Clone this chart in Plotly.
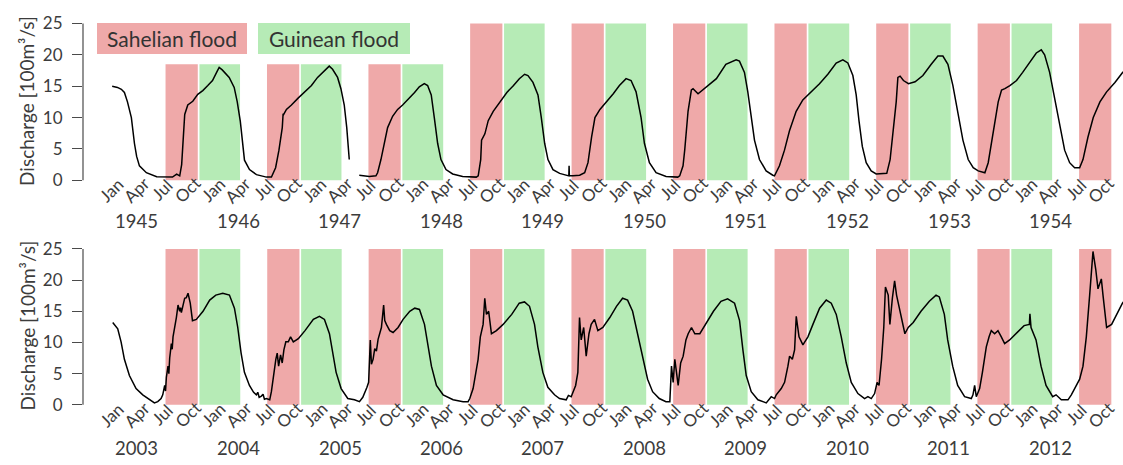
import plotly.graph_objects as go

# ---------------- data ----------------
top_dates = [
    "1945-01-02", "1945-01-21", "1945-02-04", "1945-02-15", "1945-02-26", "1945-03-12", "1945-03-23",
    "1945-03-31", "1945-04-10", "1945-05-05", "1945-06-11", "1945-07-17", "1945-08-07", "1945-08-22",
    "1945-09-02", "1945-09-09", "1945-09-14", "1945-09-20", "1945-10-01", "1945-10-19", "1945-11-06",
    "1945-11-24", "1945-12-12", "1945-12-29", "1946-01-15", "1946-01-22", "1946-02-02", "1946-02-27",
    "1946-03-17", "1946-03-28", "1946-04-08", "1946-04-15", "1946-04-23", "1946-05-11", "1946-06-05",
    "1946-07-11", "1946-07-29", "1946-08-13", "1946-08-25", "1946-09-06", "1946-09-09", "1946-09-10",
    "1946-09-11", "1946-09-21", "1946-10-09", "1946-11-02", "1946-11-26", "1946-12-20", "1947-01-11",
    "1947-02-04", "1947-02-22", "1947-03-06", "1947-03-24", "1947-04-05", "1947-04-17", "1947-04-26",
    "1947-05-05", None,
    "1947-06-10", "1947-07-16", "1947-08-09", "1947-08-15", "1947-08-27", "1947-09-08", "1947-09-20",
    "1947-10-08", "1947-10-26", "1947-11-13", "1947-12-08", "1947-12-26", "1948-01-12", "1948-01-30",
    "1948-02-11", "1948-02-24", "1948-03-06", "1948-03-18", "1948-03-30", "1948-04-17", "1948-05-11",
    "1948-06-16", "1948-08-04", "1948-08-11", "1948-08-20", "1948-08-23", "1948-09-04", "1948-09-16",
    "1948-10-04", "1948-10-28", "1948-11-22", "1948-12-16", "1949-01-06", "1949-01-25", "1949-02-06",
    "1949-02-24", "1949-03-14", "1949-03-26", "1949-04-07", "1949-04-19", "1949-05-07", "1949-05-31",
    "1949-06-24", "1949-07-03", "1949-07-04", "1949-07-05", "1949-07-18", "1949-08-11", "1949-08-29",
    "1949-09-10", "1949-09-23", "1949-10-05", "1949-10-23", "1949-11-16", "1949-12-10", "1950-01-01",
    "1950-01-25", "1950-02-12", "1950-03-02", "1950-03-20", "1950-04-01", "1950-04-19", "1950-05-13",
    "1950-06-18", "1950-07-30", "1950-08-06", "1950-08-18", "1950-08-24", "1950-08-30", "1950-09-05",
    "1950-09-17", "1950-09-23", "1950-10-11", "1950-11-10", "1950-12-16", "1951-01-19", "1951-02-25",
    "1951-03-09", "1951-03-27", "1951-04-08", "1951-04-20", "1951-05-02", "1951-05-20", "1951-06-13",
    "1951-07-07", "1951-07-13", "1951-07-31", "1951-08-18", "1951-09-05", "1951-09-29", "1951-10-23",
    "1951-11-23", "1951-12-22", "1952-01-21", "1952-02-20", "1952-03-15", "1952-04-02", "1952-04-20",
    "1952-05-02", "1952-05-12", "1952-05-24", "1952-06-07", "1952-06-25", "1952-07-13", "1952-08-01",
    "1952-08-20", "1952-09-01", "1952-09-13", "1952-09-23", "1952-09-29", "1952-10-07", "1952-10-19",
    "1952-11-06", "1952-11-30", "1952-12-28", "1953-01-27", "1953-02-20", "1953-03-10", "1953-03-28",
    "1953-04-15", "1953-05-03", "1953-05-21", "1953-06-09", "1953-06-27", "1953-07-15", "1953-08-02",
    "1953-08-08", "1953-08-20", "1953-09-01", "1953-09-13", "1953-09-25", "1953-10-07", "1953-10-19",
    "1953-11-06", "1953-11-30", "1953-12-22", "1954-01-16", "1954-02-09", "1954-02-27", "1954-03-11",
    "1954-03-29", "1954-04-16", "1954-05-04", "1954-05-22", "1954-06-09", "1954-06-27", "1954-07-15",
    "1954-07-27", "1954-08-14", "1954-09-02", "1954-09-26", "1954-10-20", "1954-11-19", "1954-12-17",
    "1954-12-28",
]
top_discharge = [
    15.0, 14.8, 14.5, 14.0, 12.5, 10.0, 5.9,
    3.8, 2.3, 1.2, 0.56, 0.46, 0.5, 0.98,
    0.7, 2.5, 7.0, 10.5, 12.0, 12.6, 13.7,
    14.3, 15.1, 15.9, 17.4, 18.0, 17.6, 16.4,
    14.8, 12.5, 9.4, 5.9, 3.2, 1.7, 0.9,
    0.5, 0.5, 2.0, 4.8, 8.4, 10.6, 9.6,
    10.5, 11.3, 12.0, 13.1, 14.1, 15.1, 16.4,
    17.4, 18.2, 17.7, 16.4, 14.6, 12.0, 8.4,
    3.3, None,
    0.8, 0.6, 0.7, 1.2, 3.3, 5.9, 8.4,
    10.2, 11.3, 12.0, 13.1, 14.0, 14.9, 15.4,
    15.1, 13.6, 10.0, 5.9, 3.3, 1.7, 1.0,
    0.6, 0.5, 0.7, 3.3, 6.4, 7.4, 9.5,
    11.0, 12.5, 14.0, 15.1, 16.2, 16.9, 16.7,
    15.6, 13.6, 10.0, 5.9, 3.3, 1.7, 1.1,
    0.8, 0.7, 2.3, 0.7, 0.7, 0.8, 1.2,
    2.8, 6.9, 10.0, 11.3, 12.5, 13.8, 15.1,
    16.2, 15.9, 14.1, 10.0, 5.9, 2.8, 1.2,
    0.6, 0.5, 0.7, 2.3, 4.8, 7.9, 11.0,
    14.4, 14.6, 13.8, 14.9, 16.2, 18.5, 19.2,
    19.0, 17.2, 14.1, 10.5, 6.4, 3.3, 1.5,
    0.8, 0.7, 2.3, 4.8, 7.9, 11.0, 12.8,
    14.1, 15.4, 16.9, 18.7, 19.2, 18.7, 16.7,
    13.6, 9.5, 5.4, 2.8, 1.5, 1.0, 1.1,
    1.1, 3.3, 7.9, 12.5, 16.4, 16.6, 15.9,
    15.4, 15.7, 16.7, 18.5, 19.8, 19.8, 18.5,
    15.1, 10.5, 6.4, 3.3, 2.0, 1.5, 1.2,
    1.2, 2.8, 5.9, 9.5, 12.5, 14.4, 14.6,
    15.1, 15.9, 17.2, 18.7, 20.3, 20.8, 20.0,
    17.2, 13.1, 8.4, 4.8, 2.8, 2.0, 2.0,
    3.3, 6.9, 10.0, 12.5, 14.1, 15.6, 17.2,
    17.6,
]

bottom_dates = [
    "2003-01-04", "2003-01-22", "2003-02-03", "2003-02-15", "2003-03-05", "2003-03-29", "2003-04-22",
    "2003-05-16", "2003-06-03", "2003-06-15", "2003-06-27", "2003-07-03", "2003-07-10", "2003-07-13",
    "2003-07-16", "2003-07-22", "2003-07-25", "2003-07-28", "2003-08-03", "2003-08-06", "2003-08-09",
    "2003-08-21", "2003-08-27", "2003-09-02", "2003-09-05", "2003-09-08", "2003-09-11", "2003-09-20",
    "2003-09-26", "2003-10-02", "2003-10-10", "2003-10-18", "2003-11-01", "2003-11-25", "2003-12-19",
    "2004-01-10", "2004-02-04", "2004-02-28", "2004-03-17", "2004-03-29", "2004-04-10", "2004-04-22",
    "2004-05-10", "2004-05-25", "2004-06-04", "2004-06-09", "2004-06-14", "2004-06-22", "2004-06-28",
    "2004-07-03", "2004-07-10", "2004-07-22", "2004-07-28", "2004-08-06", "2004-08-13", "2004-08-18",
    "2004-08-23", "2004-08-30", "2004-09-05", "2004-09-11", "2004-09-18", "2004-09-27", "2004-10-05",
    "2004-10-15", "2004-11-02", "2004-11-26", "2004-12-26", "2005-01-17", "2005-02-04", "2005-02-22",
    "2005-03-06", "2005-03-18", "2005-04-05", "2005-04-29", "2005-05-23", "2005-06-10", "2005-06-22",
    "2005-06-30", "2005-07-07", "2005-07-13", "2005-07-19", "2005-07-23", "2005-07-29", "2005-08-04",
    "2005-08-10", "2005-08-16", "2005-08-22", "2005-08-28", "2005-09-05", "2005-09-09", "2005-09-15",
    "2005-09-27", "2005-10-09", "2005-10-27", "2005-11-14", "2005-12-08", "2005-12-26", "2006-01-12",
    "2006-01-30", "2006-02-11", "2006-02-24", "2006-03-14", "2006-04-07", "2006-05-13", "2006-06-18",
    "2006-07-06", "2006-07-12", "2006-07-24", "2006-08-02", "2006-08-11", "2006-08-19", "2006-08-29",
    "2006-09-04", "2006-09-10", "2006-09-18", "2006-09-28", "2006-10-16", "2006-11-09", "2006-12-10",
    "2007-01-06", "2007-01-25", "2007-02-12", "2007-03-02", "2007-03-14", "2007-04-01", "2007-04-19",
    "2007-05-13", "2007-05-31", "2007-06-24", "2007-07-02", "2007-07-12", "2007-07-18", "2007-07-28",
    "2007-08-05", "2007-08-11", "2007-08-17", "2007-08-26", "2007-09-04", "2007-09-14", "2007-09-22",
    "2007-10-04", "2007-10-16", "2007-11-03", "2007-11-28", "2007-12-22", "2008-01-13", "2008-01-31",
    "2008-02-18", "2008-03-07", "2008-03-25", "2008-04-12", "2008-04-30", "2008-05-24", "2008-06-17",
    "2008-07-01", "2008-07-07", "2008-07-13", "2008-07-19", "2008-07-31", "2008-08-09", "2008-08-18",
    "2008-08-28", "2008-09-05", "2008-09-17", "2008-09-29", "2008-10-17", "2008-11-04", "2008-12-05",
    "2009-01-01", "2009-01-25", "2009-02-19", "2009-03-09", "2009-03-21", "2009-04-02", "2009-04-20",
    "2009-05-14", "2009-06-13", "2009-07-01", "2009-07-13", "2009-07-19", "2009-08-06", "2009-08-18",
    "2009-08-30", "2009-09-05", "2009-09-15", "2009-09-23", "2009-09-29", "2009-10-09", "2009-10-23",
    "2009-11-10", "2009-11-28", "2009-12-22", "2010-01-15", "2010-02-02", "2010-02-20", "2010-03-10",
    "2010-03-28", "2010-04-15", "2010-05-09", "2010-06-02", "2010-06-14", "2010-06-26", "2010-07-08",
    "2010-07-17", "2010-07-24", "2010-08-02", "2010-08-10", "2010-08-16", "2010-08-26", "2010-09-01",
    "2010-09-10", "2010-09-18", "2010-09-25", "2010-10-07", "2010-10-25", "2010-11-06", "2010-11-24",
    "2010-12-22", "2011-01-21", "2011-02-14", "2011-02-26", "2011-03-16", "2011-03-28", "2011-04-15",
    "2011-05-03", "2011-05-28", "2011-06-21", "2011-06-27", "2011-07-03", "2011-07-09", "2011-07-21",
    "2011-07-31", "2011-08-08", "2011-08-14", "2011-08-24", "2011-09-01", "2011-09-13", "2011-09-25",
    "2011-10-07", "2011-10-19", "2011-11-06", "2011-11-30", "2011-12-28", "2012-01-16", "2012-01-18",
    "2012-01-22", "2012-02-09", "2012-02-27", "2012-03-16", "2012-04-09", "2012-04-21", "2012-05-10",
    "2012-06-03", "2012-06-15", "2012-06-21", "2012-07-03", "2012-07-15", "2012-07-27", "2012-08-08",
    "2012-08-20", "2012-09-01", "2012-09-11", "2012-09-19", "2012-09-25", "2012-10-01", "2012-10-07",
    "2012-10-20", "2012-11-07", "2012-11-25", "2012-12-16", "2012-12-28",
]
bottom_discharge = [
    13.2, 12.2, 10.1, 7.3, 4.7, 2.6, 1.6,
    0.8, 0.3, 0.5, 1.0, 1.6, 3.1, 2.2,
    4.4, 6.2, 5.0, 7.5, 9.8, 8.9, 10.9,
    14.0, 16.0, 15.0, 15.6, 14.8, 15.5, 17.1,
    17.2, 17.9, 16.3, 13.5, 13.7, 15.0, 16.8,
    17.6, 17.9, 17.6, 15.5, 12.4, 8.3, 5.2,
    3.1, 2.0, 1.6, 2.0, 1.2, 1.4, 1.7,
    0.9, 1.0, 0.8, 2.1, 5.2, 7.3, 8.3,
    6.2, 8.0, 6.7, 8.8, 10.1, 10.1, 10.9,
    10.1, 10.6, 11.9, 13.7, 14.2, 13.7, 11.4,
    8.3, 5.2, 2.6, 1.0, 0.8, 0.5, 1.2,
    2.0, 2.8, 3.6, 10.4, 6.5, 7.3, 9.0,
    8.6, 10.5, 11.4, 12.4, 16.0, 13.5, 12.9,
    11.9, 11.6, 12.4, 13.7, 15.0, 15.5, 15.3,
    12.9, 9.3, 6.2, 3.1, 1.6, 0.8, 0.5,
    0.5, 1.0, 2.6, 4.7, 7.3, 10.9, 12.9,
    17.1, 14.5, 15.0, 11.4, 11.9, 12.9, 14.5,
    16.3, 16.5, 15.8, 12.9, 9.3, 5.2, 2.8,
    1.6, 1.0, 0.8, 1.5, 1.3, 2.1, 3.1,
    5.2, 14.0, 10.4, 12.4, 7.8, 11.4, 12.9,
    13.7, 11.9, 12.4, 14.0, 15.8, 17.1, 16.8,
    15.0, 11.4, 7.3, 4.1, 2.1, 1.0, 0.5,
    0.5, 6.2, 3.6, 7.3, 3.1, 6.7, 7.8,
    10.4, 11.4, 12.4, 11.4, 11.4, 12.7, 15.0,
    16.6, 17.0, 16.3, 13.5, 8.8, 4.7, 2.1,
    0.8, 0.3, 1.3, 1.0, 1.6, 2.6, 3.6,
    6.2, 7.8, 7.3, 8.8, 14.2, 10.9, 9.6,
    10.9, 12.9, 15.5, 16.8, 16.3, 14.5, 10.9,
    6.7, 3.6, 1.8, 1.0, 1.3, 1.0, 1.8,
    3.6, 3.1, 7.3, 12.4, 18.9, 17.6, 12.9,
    17.1, 19.9, 17.6, 15.0, 11.4, 12.4, 13.2,
    15.0, 16.6, 17.6, 17.3, 14.5, 10.4, 6.2,
    3.1, 1.3, 1.0, 1.6, 3.1, 1.3, 2.6,
    5.2, 7.3, 9.3, 10.9, 11.9, 11.4, 11.9,
    10.9, 9.8, 10.4, 11.4, 12.7, 12.9, 14.6,
    12.4, 10.4, 6.2, 3.1, 1.3, 1.6, 0.8,
    0.8, 1.6, 2.1, 3.1, 4.1, 6.2, 10.9,
    17.6, 24.6, 21.7, 18.6, 19.4, 20.2, 17.6,
    12.4, 12.9, 14.5, 16.3, 17.0,
]

top_years = [1945, 1946, 1947, 1948, 1949, 1950, 1951, 1952, 1953, 1954]
bottom_years = [2003, 2004, 2005, 2006, 2007, 2008, 2009, 2010, 2011, 2012]
month_numbers = ["01", "04", "07", "10"]
month_labels = ["Jan", "Apr", "Jul", "Oct"]
y_ticks = [0, 5, 10, 15, 20, 25]

flood_names = ["Sahelian flood", "Guinean flood"]
flood_colors = ["#EFA9A9", "#B6EBB6"]
sahelian_window = ("07-13", "11-06")      # month-day, same year
guinean_window = ("11-12", "04-07")       # month-day, into next year
short_shading_last_year = 1947            # top panel shading kept below the legend
short_shading_top = 18.5
y_title = "Discharge [100m³/s]"

# ---------------- figure ----------------
W, H = 1123, 465
FONT = "Lato, 'Open Sans', sans-serif"
TXT = "#3c3c3c"
AX = "#4a4a4a"

fig = go.Figure()
fig.add_trace(go.Scatter(x=top_dates, y=top_discharge, mode="lines",
                         line=dict(color="black", width=1.5), connectgaps=False,
                         xaxis="x", yaxis="y", hoverinfo="skip"))
fig.add_trace(go.Scatter(x=bottom_dates, y=bottom_discharge, mode="lines",
                         line=dict(color="black", width=1.5), connectgaps=False,
                         xaxis="x2", yaxis="y2", hoverinfo="skip"))

shapes = []
annotations = []


def panel(years, xref, yref, capped, month_y, year_y):
    for i, yr in enumerate(years):
        top = short_shading_top if (capped and yr <= short_shading_last_year) else 25
        shapes.append(dict(type="rect", xref=xref, yref=yref, layer="below",
                           x0=f"{yr}-{sahelian_window[0]}", x1=f"{yr}-{sahelian_window[1]}",
                           y0=0, y1=top, fillcolor=flood_colors[0], line=dict(width=0)))
        if i < len(years) - 1:
            shapes.append(dict(type="rect", xref=xref, yref=yref, layer="below",
                               x0=f"{yr}-{guinean_window[0]}", x1=f"{yr + 1}-{guinean_window[1]}",
                               y0=0, y1=top, fillcolor=flood_colors[1], line=dict(width=0)))
        for mn, ml in zip(month_numbers, month_labels):
            annotations.append(dict(x=f"{yr}-{mn}-01", xref=xref, y=month_y, yref="paper",
                                    text=ml, textangle=-45, showarrow=False,
                                    xanchor="center", yanchor="middle",
                                    font=dict(size=17, color=TXT, family=FONT)))
        annotations.append(dict(x=f"{yr}-04-01", xref=xref, y=year_y, yref="paper",
                                text=str(yr), showarrow=False, xanchor="center", yanchor="middle",
                                font=dict(size=18.5, color=TXT, family=FONT)))
    # y axis line from 0 to 25 only
    shapes.append(dict(type="line", xref=f"{xref} domain", yref=yref, x0=0, x1=0, y0=0, y1=25,
                       line=dict(color=AX, width=1.2)))


panel(top_years, "x", "y", True, 1 - 188 / H, 1 - 220 / H)
panel(bottom_years, "x2", "y2", False, 1 - 420 / H, 1 - 455 / H)

# y titles
for yc in (1 - 96 / H, 1 - 328 / H):
    annotations.append(dict(x=27 / W, y=yc, xref="paper", yref="paper", text=y_title,
                            textangle=-90, showarrow=False, xanchor="center", yanchor="middle",
                            font=dict(size=19, color=TXT, family=FONT)))

# legend boxes
legend_boxes = [(97, 150), (258, 152)]
for name, col, (lx, lw) in zip(flood_names, flood_colors, legend_boxes):
    annotations.append(dict(x=lx / W, y=1 - 15 / H, xref="paper", yref="paper", text=name,
                            showarrow=False, xanchor="left", yanchor="top", bgcolor=col,
                            width=lw, height=31, borderpad=0, borderwidth=0, align="center",
                            valign="middle", font=dict(size=21, color="#333333", family=FONT)))

common_x = dict(type="date", showticklabels=False, showgrid=False, zeroline=False,
                showline=False, ticks="", domain=[83 / W, 1.0])
common_y = dict(range=[-0.5, 25.5], tickvals=y_ticks, ticks="outside", ticklen=10, tickwidth=1.2,
                tickcolor=AX, showgrid=False, zeroline=False, showline=False,
                tickfont=dict(size=17, color=TXT, family=FONT), ticklabelstandoff=6)

fig.update_layout(
    width=W, height=H, margin=dict(l=0, r=0, t=0, b=0),
    paper_bgcolor="white", plot_bgcolor="white", showlegend=False,
    font=dict(family=FONT, color=TXT),
    xaxis=dict(common_x, range=["1944-09-19", "1954-12-18"], anchor="y"),
    yaxis=dict(common_y, domain=[0.61024, 0.97256], anchor="x"),
    xaxis2=dict(common_x, range=["2002-09-19", "2012-12-18"], anchor="y2"),
    yaxis2=dict(common_y, domain=[0.11135, 0.47144], anchor="x2"),
    shapes=shapes, annotations=annotations,
)

fig.write_html("out.html")
